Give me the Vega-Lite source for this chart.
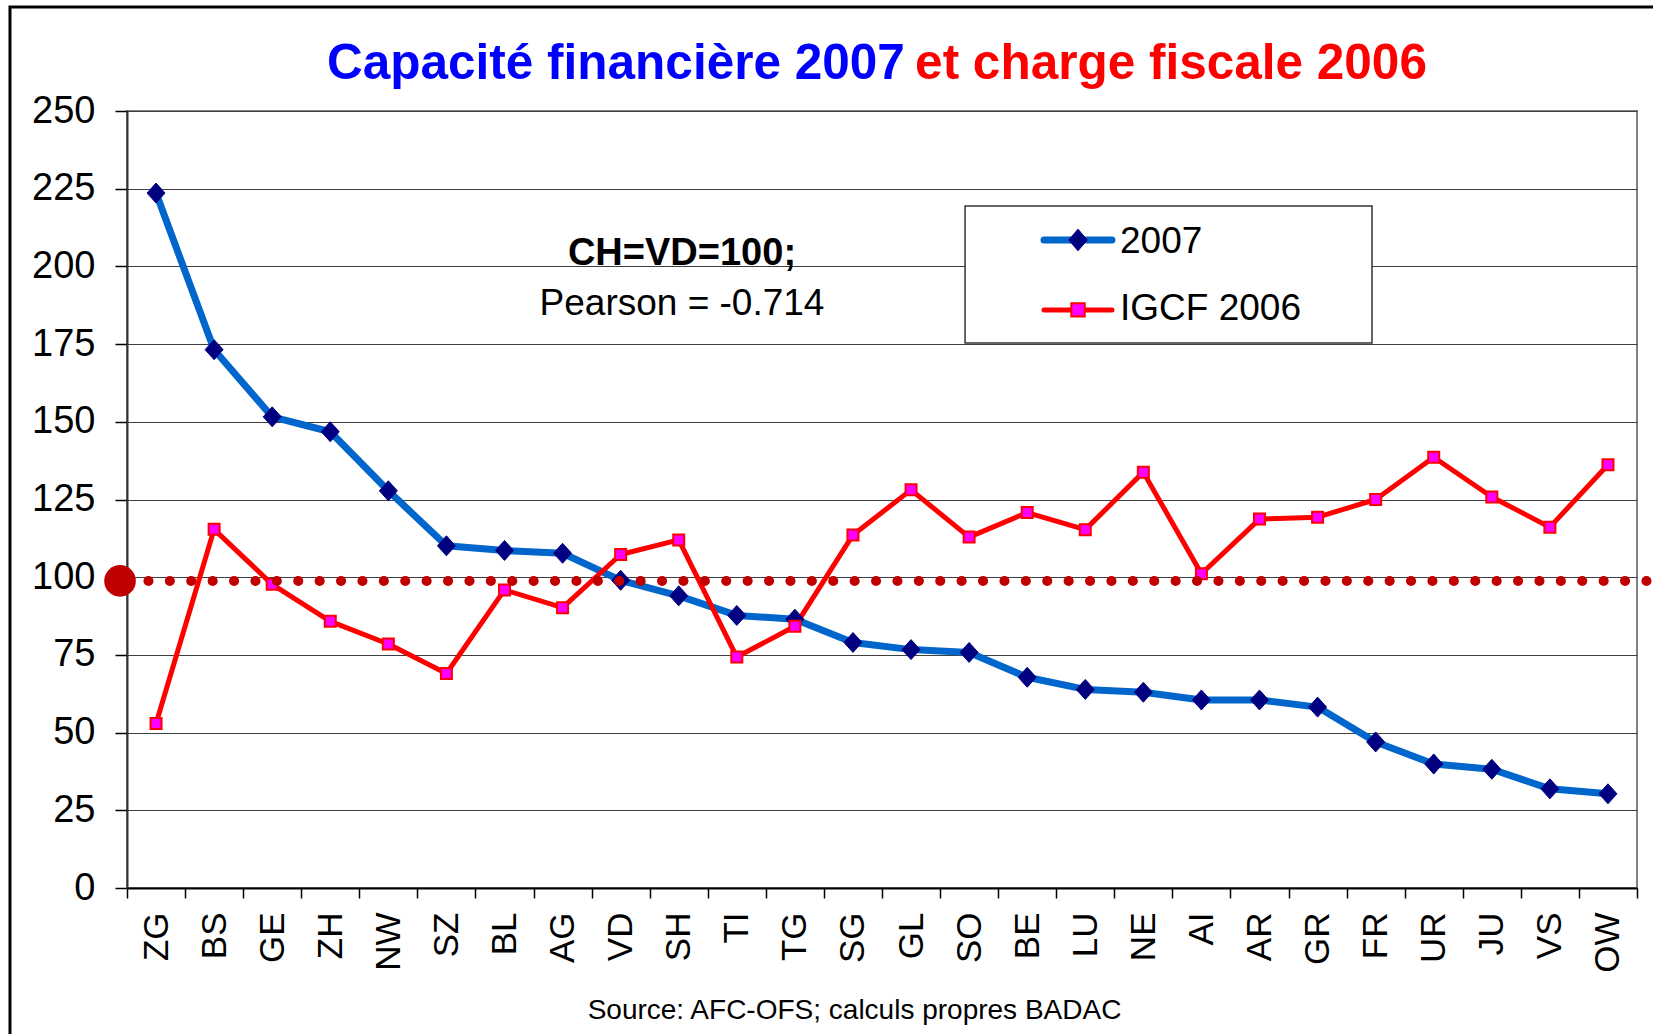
{
  "$schema": "https://vega.github.io/schema/vega-lite/v6.json",
  "width": 1510,
  "height": 777,
  "autosize": {"type": "none"},
  "padding": {"left": 127, "top": 111, "right": 16, "bottom": 146},
  "background": "white",
  "config": {"font": "Liberation Sans", "view": {"stroke": "#808080", "strokeWidth": 2},
    "axisY": {"labelFontSize": 38, "labelFont": "Liberation Sans", "labelColor": "black", "tickSize": 12,
              "tickColor": "black", "tickWidth": 1.5, "labelPadding": 20, "domainColor": "#333333",
              "domainWidth": 2, "gridColor": "#404040", "gridWidth": 1, "grid": true}},
  "layer": [
    {
      "data": {"values": [
        {"canton": "ZG", "series": "2007", "value": 223.6}, {"canton": "BS", "series": "2007", "value": 173.2},
        {"canton": "GE", "series": "2007", "value": 151.6}, {"canton": "ZH", "series": "2007", "value": 146.8},
        {"canton": "NW", "series": "2007", "value": 127.8}, {"canton": "SZ", "series": "2007", "value": 110.1},
        {"canton": "BL", "series": "2007", "value": 108.6}, {"canton": "AG", "series": "2007", "value": 107.7},
        {"canton": "VD", "series": "2007", "value": 99.0}, {"canton": "SH", "series": "2007", "value": 94.0},
        {"canton": "TI", "series": "2007", "value": 87.7}, {"canton": "TG", "series": "2007", "value": 86.5},
        {"canton": "SG", "series": "2007", "value": 79.0}, {"canton": "GL", "series": "2007", "value": 76.7},
        {"canton": "SO", "series": "2007", "value": 75.8}, {"canton": "BE", "series": "2007", "value": 67.8},
        {"canton": "LU", "series": "2007", "value": 63.9}, {"canton": "NE", "series": "2007", "value": 63.0},
        {"canton": "AI", "series": "2007", "value": 60.5}, {"canton": "AR", "series": "2007", "value": 60.5},
        {"canton": "GR", "series": "2007", "value": 58.2}, {"canton": "FR", "series": "2007", "value": 47.0},
        {"canton": "UR", "series": "2007", "value": 39.9}, {"canton": "JU", "series": "2007", "value": 38.2},
        {"canton": "VS", "series": "2007", "value": 31.9}, {"canton": "OW", "series": "2007", "value": 30.3},
        {"canton": "ZG", "series": "IGCF 2006", "value": 52.9}, {"canton": "BS", "series": "IGCF 2006", "value": 115.4},
        {"canton": "GE", "series": "IGCF 2006", "value": 97.7}, {"canton": "ZH", "series": "IGCF 2006", "value": 85.8},
        {"canton": "NW", "series": "IGCF 2006", "value": 78.5}, {"canton": "SZ", "series": "IGCF 2006", "value": 69.0},
        {"canton": "BL", "series": "IGCF 2006", "value": 95.9}, {"canton": "AG", "series": "IGCF 2006", "value": 90.2},
        {"canton": "VD", "series": "IGCF 2006", "value": 107.3}, {"canton": "SH", "series": "IGCF 2006", "value": 112.0},
        {"canton": "TI", "series": "IGCF 2006", "value": 74.3}, {"canton": "TG", "series": "IGCF 2006", "value": 84.2},
        {"canton": "SG", "series": "IGCF 2006", "value": 113.6}, {"canton": "GL", "series": "IGCF 2006", "value": 128.1},
        {"canton": "SO", "series": "IGCF 2006", "value": 112.9}, {"canton": "BE", "series": "IGCF 2006", "value": 120.8},
        {"canton": "LU", "series": "IGCF 2006", "value": 115.3}, {"canton": "NE", "series": "IGCF 2006", "value": 133.8},
        {"canton": "AI", "series": "IGCF 2006", "value": 101.1}, {"canton": "AR", "series": "IGCF 2006", "value": 118.7},
        {"canton": "GR", "series": "IGCF 2006", "value": 119.3}, {"canton": "FR", "series": "IGCF 2006", "value": 125.0},
        {"canton": "UR", "series": "IGCF 2006", "value": 138.6}, {"canton": "JU", "series": "IGCF 2006", "value": 125.8},
        {"canton": "VS", "series": "IGCF 2006", "value": 116.1}, {"canton": "OW", "series": "IGCF 2006", "value": 136.2}
      ]},
      "encoding": {
        "x": {"field": "canton", "type": "nominal", "sort": null,
              "scale": {"type": "band", "paddingInner": 0, "paddingOuter": 0},
              "axis": {"labelAngle": -90, "labelFontSize": 35, "labelFont": "Liberation Sans", "labelColor": "black",
                       "tickBand": "extent", "tickSize": 10, "tickColor": "black", "tickWidth": 1.5, "labelPadding": 14,
                       "domainColor": "black", "domainWidth": 2, "grid": false,
                       "title": "Source: AFC-OFS; calculs propres BADAC", "titleFontSize": 28, "titleFontWeight": "normal",
                       "titleFont": "Liberation Sans", "titleColor": "black", "titleX": 727, "titleY": 130,
                       "titleAlign": "center", "titleBaseline": "alphabetic"}},
        "y": {"field": "value", "type": "quantitative",
              "scale": {"domain": [0, 250], "nice": false},
              "axis": {"values": [0, 25, 50, 75, 100, 125, 150, 175, 200, 225, 250], "title": null, "orient": "left"}}
      },
      "layer": [
        {
          "transform": [{"filter": "datum.series === '2007'"}],
          "mark": {"type": "line", "strokeWidth": 7, "strokeJoin": "round"},
          "encoding": {"stroke": {"field": "series", "type": "nominal",
            "scale": {"domain": ["2007", "IGCF 2006"], "range": ["#0066CC", "#FF0000"]}, "legend": null}}
        },
        {
          "transform": [{"filter": "datum.series === 'IGCF 2006'"}],
          "mark": {"type": "line", "strokeWidth": 5, "strokeJoin": "round"},
          "encoding": {"stroke": {"field": "series", "type": "nominal",
            "scale": {"domain": ["2007", "IGCF 2006"], "range": ["#0066CC", "#FF0000"]}, "legend": null}}
        },
        {
          "mark": {"type": "point", "filled": true, "opacity": 1},
          "encoding": {
            "shape": {"field": "series", "type": "nominal",
              "scale": {"domain": ["2007", "IGCF 2006"], "range": ["M0,-1L0.9,0L0,1L-0.9,0Z", "square"]}, "legend": null},
            "fill": {"field": "series", "type": "nominal",
              "scale": {"domain": ["2007", "IGCF 2006"], "range": ["#000080", "#FF00FF"]}, "legend": null},
            "stroke": {"condition": {"test": "datum.series === '2007'", "value": "#000080"}, "value": "#FF0000"},
            "strokeWidth": {"condition": {"test": "datum.series === '2007'", "value": 1}, "value": 2},
            "size": {"condition": {"test": "datum.series === '2007'", "value": 400}, "value": 121}
          }
        }
      ]
    },
    {
      "data": {"values": [{}]},
      "layer": [
        {
          "mark": {"type": "rect", "fill": null, "fillOpacity": 0, "stroke": "black", "strokeWidth": 3},
          "encoding": {
            "x": {"datum": -2.015, "type": "quantitative", "scale": {"domain": [0, 26]}, "axis": null},
            "x2": {"datum": 30},
            "y": {"datum": 283.5, "type": "quantitative", "axis": {"values": [0, 25, 50, 75, 100, 125, 150, 175, 200, 225, 250], "title": null, "orient": "left"}},
            "y2": {"datum": -100}
          }
        },
        {
          "mark": {"type": "rule", "color": "#C00000", "strokeWidth": 10, "strokeDash": [0.1, 21.3], "strokeCap": "round"},
          "encoding": {
            "x": {"datum": 0.0, "type": "quantitative", "scale": {"domain": [0, 26]}, "axis": null},
            "x2": {"datum": 26.5},
            "y": {"datum": 98.8, "type": "quantitative", "axis": {"values": [0, 25, 50, 75, 100, 125, 150, 175, 200, 225, 250], "title": null, "orient": "left"}}
          }
        },
        {
          "mark": {"type": "point", "filled": true, "opacity": 1, "color": "#C00000", "size": 1000, "shape": "circle"},
          "encoding": {
            "x": {"datum": -0.12, "type": "quantitative", "scale": {"domain": [0, 26]}, "axis": null},
            "y": {"datum": 98.8, "type": "quantitative", "axis": {"values": [0, 25, 50, 75, 100, 125, 150, 175, 200, 225, 250], "title": null, "orient": "left"}}
          }
        },
        {
          "mark": {"type": "text", "text": "Capacité financière 2007", "align": "left", "baseline": "alphabetic",
                   "font": "Liberation Sans", "fontSize": 49.5, "fontWeight": "bold", "color": "#0000FF"},
          "encoding": {
            "x": {"datum": 3.444, "type": "quantitative", "scale": {"domain": [0, 26]}, "axis": null},
            "y": {"datum": 260.3, "type": "quantitative", "axis": {"values": [0, 25, 50, 75, 100, 125, 150, 175, 200, 225, 250], "title": null, "orient": "left"}}
          }
        },
        {
          "mark": {"type": "text", "text": "et charge fiscale 2006", "align": "left", "baseline": "alphabetic",
                   "font": "Liberation Sans", "fontSize": 49.5, "fontWeight": "bold", "color": "#FF0000"},
          "encoding": {
            "x": {"datum": 13.57, "type": "quantitative", "scale": {"domain": [0, 26]}, "axis": null},
            "y": {"datum": 260.3, "type": "quantitative", "axis": {"values": [0, 25, 50, 75, 100, 125, 150, 175, 200, 225, 250], "title": null, "orient": "left"}}
          }
        },
        {
          "mark": {"type": "text", "text": "CH=VD=100;", "align": "center", "baseline": "alphabetic",
                   "font": "Liberation Sans", "fontSize": 38, "fontWeight": "bold", "color": "black"},
          "encoding": {
            "x": {"datum": 9.556, "type": "quantitative", "scale": {"domain": [0, 26]}, "axis": null},
            "y": {"datum": 200.45, "type": "quantitative", "axis": {"values": [0, 25, 50, 75, 100, 125, 150, 175, 200, 225, 250], "title": null, "orient": "left"}}
          }
        },
        {
          "mark": {"type": "text", "text": "Pearson = -0.714", "align": "center", "baseline": "alphabetic",
                   "font": "Liberation Sans", "fontSize": 37, "color": "black"},
          "encoding": {
            "x": {"datum": 9.556, "type": "quantitative", "scale": {"domain": [0, 26]}, "axis": null},
            "y": {"datum": 184.4, "type": "quantitative", "axis": {"values": [0, 25, 50, 75, 100, 125, 150, 175, 200, 225, 250], "title": null, "orient": "left"}}
          }
        },
        {
          "mark": {"type": "rect", "fill": "white", "stroke": "#333333", "strokeWidth": 1.5},
          "encoding": {
            "x": {"datum": 14.43, "type": "quantitative", "scale": {"domain": [0, 26]}, "axis": null},
            "x2": {"datum": 21.437},
            "y": {"datum": 219.4, "type": "quantitative", "axis": {"values": [0, 25, 50, 75, 100, 125, 150, 175, 200, 225, 250], "title": null, "orient": "left"}},
            "y2": {"datum": 175.35}
          }
        },
        {
          "mark": {"type": "rule", "color": "#0066CC", "strokeWidth": 7, "strokeCap": "round"},
          "encoding": {
            "x": {"datum": 15.789, "type": "quantitative", "scale": {"domain": [0, 26]}, "axis": null},
            "x2": {"datum": 16.96},
            "y": {"datum": 208.5, "type": "quantitative", "axis": {"values": [0, 25, 50, 75, 100, 125, 150, 175, 200, 225, 250], "title": null, "orient": "left"}}
          }
        },
        {
          "mark": {"type": "point", "filled": true, "opacity": 1, "fill": "#000080", "stroke": "#000080", "strokeWidth": 1,
                   "size": 424, "shape": "M0,-1.05L0.9,0L0,1.05L-0.9,0Z"},
          "encoding": {
            "x": {"datum": 16.375, "type": "quantitative", "scale": {"domain": [0, 26]}, "axis": null},
            "y": {"datum": 208.5, "type": "quantitative", "axis": {"values": [0, 25, 50, 75, 100, 125, 150, 175, 200, 225, 250], "title": null, "orient": "left"}}
          }
        },
        {
          "mark": {"type": "rule", "color": "#FF0000", "strokeWidth": 5, "strokeCap": "round"},
          "encoding": {
            "x": {"datum": 15.789, "type": "quantitative", "scale": {"domain": [0, 26]}, "axis": null},
            "x2": {"datum": 16.96},
            "y": {"datum": 186.0, "type": "quantitative", "axis": {"values": [0, 25, 50, 75, 100, 125, 150, 175, 200, 225, 250], "title": null, "orient": "left"}}
          }
        },
        {
          "mark": {"type": "point", "filled": true, "opacity": 1, "fill": "#FF00FF", "stroke": "#FF0000", "strokeWidth": 2,
                   "size": 180, "shape": "square"},
          "encoding": {
            "x": {"datum": 16.375, "type": "quantitative", "scale": {"domain": [0, 26]}, "axis": null},
            "y": {"datum": 186.0, "type": "quantitative", "axis": {"values": [0, 25, 50, 75, 100, 125, 150, 175, 200, 225, 250], "title": null, "orient": "left"}}
          }
        },
        {
          "mark": {"type": "text", "text": "2007", "align": "left", "baseline": "alphabetic",
                   "font": "Liberation Sans", "fontSize": 37, "color": "black"},
          "encoding": {
            "x": {"datum": 17.098, "type": "quantitative", "scale": {"domain": [0, 26]}, "axis": null},
            "y": {"datum": 204.3, "type": "quantitative", "axis": {"values": [0, 25, 50, 75, 100, 125, 150, 175, 200, 225, 250], "title": null, "orient": "left"}}
          }
        },
        {
          "mark": {"type": "text", "text": "IGCF 2006", "align": "left", "baseline": "alphabetic",
                   "font": "Liberation Sans", "fontSize": 37, "color": "black"},
          "encoding": {
            "x": {"datum": 17.098, "type": "quantitative", "scale": {"domain": [0, 26]}, "axis": null},
            "y": {"datum": 182.75, "type": "quantitative", "axis": {"values": [0, 25, 50, 75, 100, 125, 150, 175, 200, 225, 250], "title": null, "orient": "left"}}
          }
        }
      ]
    }
  ],
  "resolve": {"scale": {"x": "independent"}}
}
